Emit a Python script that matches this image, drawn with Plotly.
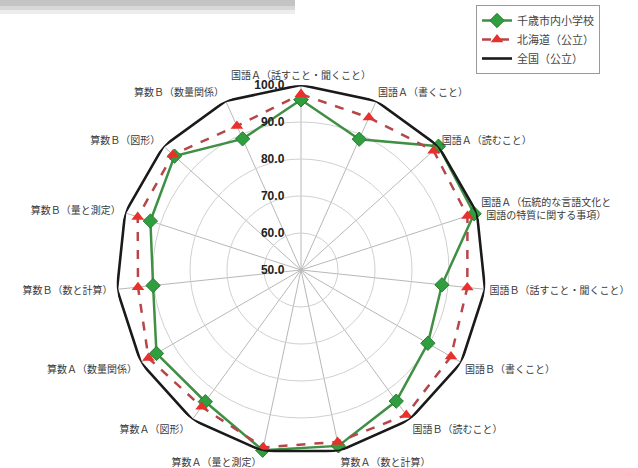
import plotly.graph_objects as go

categories = [
    "国語Ａ（話すこと・聞くこと）",
    "国語Ａ（書くこと）",
    "国語Ａ（読むこと）",
    "国語Ａ（伝統的な言語文化と<br>\u2002国語の特質に関する事項）",
    "国語Ｂ（話すこと・聞くこと）",
    "国語Ｂ（書くこと）",
    "国語Ｂ（読むこと）",
    "算数Ａ（数と計算）",
    "算数Ａ（量と測定）",
    "算数Ａ（図形）",
    "算数Ａ（数量関係）",
    "算数Ｂ（数と計算）",
    "算数Ｂ（量と測定）",
    "算数Ｂ（図形）",
    "算数Ｂ（数量関係）",
]
chitose = [96.0, 88.7, 100.0, 99.2, 88.3, 89.6, 93.8, 98.6, 99.8, 94.0, 95.1, 90.2, 92.8, 96.0, 88.8]
hokkaido = [97.5, 95.1, 98.2, 97.3, 95.2, 96.8, 98.4, 97.5, 99.0, 95.7, 97.6, 94.3, 96.4, 96.6, 92.6]
zenkoku = [100.0] * 15
series_names = ["千歳市内小学校", "北海道（公立）", "全国（公立）"]
radial_ticks = [50, 60, 70, 80, 90, 100]

W, H = 638, 468
cx, cy, R = 301, 270, 185


def closed(v):
    return list(v) + [v[0]]


theta = closed(categories)

fig = go.Figure()
fig.add_trace(go.Scatterpolar(
    r=closed(chitose), theta=theta, name=series_names[0], mode="lines+markers",
    line=dict(color="#3f8f45", width=2.5),
    marker=dict(symbol="diamond", size=11, color="#2e9e3e", line=dict(color="#2a7a30", width=1)),
))
fig.add_trace(go.Scatterpolar(
    r=closed(hokkaido), theta=theta, name=series_names[1], mode="lines+markers",
    line=dict(color="#b5464a", width=2.5, dash="dash"),
    marker=dict(symbol="triangle-up", size=11, color="#e8302c"),
))
fig.add_trace(go.Scatterpolar(
    r=closed(zenkoku), theta=theta, name=series_names[2], mode="lines",
    line=dict(color="#1a1a1a", width=2.6),
))

fig.update_layout(
    width=W, height=H,
    margin=dict(l=0, r=0, t=0, b=0),
    paper_bgcolor="white",
    font=dict(family="Noto Sans CJK JP", size=10, color="#444"),
    polar=dict(
        domain=dict(x=[(cx - R) / W, (cx + R) / W], y=[1 - (cy + R) / H, 1 - (cy - R) / H]),
        bgcolor="white",
        gridshape="circular",
        radialaxis=dict(
            range=[50, 100], tickvals=radial_ticks, tickformat=".1f",
            angle=90, tickangle=90, side="counterclockwise",
            showline=False, gridcolor="#d0d0d0", gridwidth=1,
            tickfont=dict(family="Liberation Sans", size=12, color="#222", weight="bold"),
            ticks="outside", ticklen=12, tickcolor="rgba(0,0,0,0)",
        ),
        angularaxis=dict(
            direction="clockwise", rotation=90,
            showline=False, gridcolor="#b8b8b8", gridwidth=1,
            tickfont=dict(family="Noto Sans CJK JP", size=10, color="#3a3a3a"),
            ticks="outside", ticklen=2, tickcolor="rgba(0,0,0,0)",
        ),
    ),
    legend=dict(
        x=(476) / W, y=1 - 5 / H, xanchor="left", yanchor="top",
        bgcolor="white", bordercolor="#999", borderwidth=1,
        font=dict(family="Noto Sans CJK JP", size=11, color="#444"),
    ),
    showlegend=True,
)

# grey smudge at top-left of the scan
for h, op in [(14, 0.15), (10, 0.2), (6, 0.25)]:
    fig.add_shape(type="rect", xref="paper", yref="paper",
                  x0=0, x1=295 / W, y0=1 - h / H, y1=1,
                  fillcolor="#888", opacity=op, line=dict(width=0), layer="below")

fig.write_html("out.html")
